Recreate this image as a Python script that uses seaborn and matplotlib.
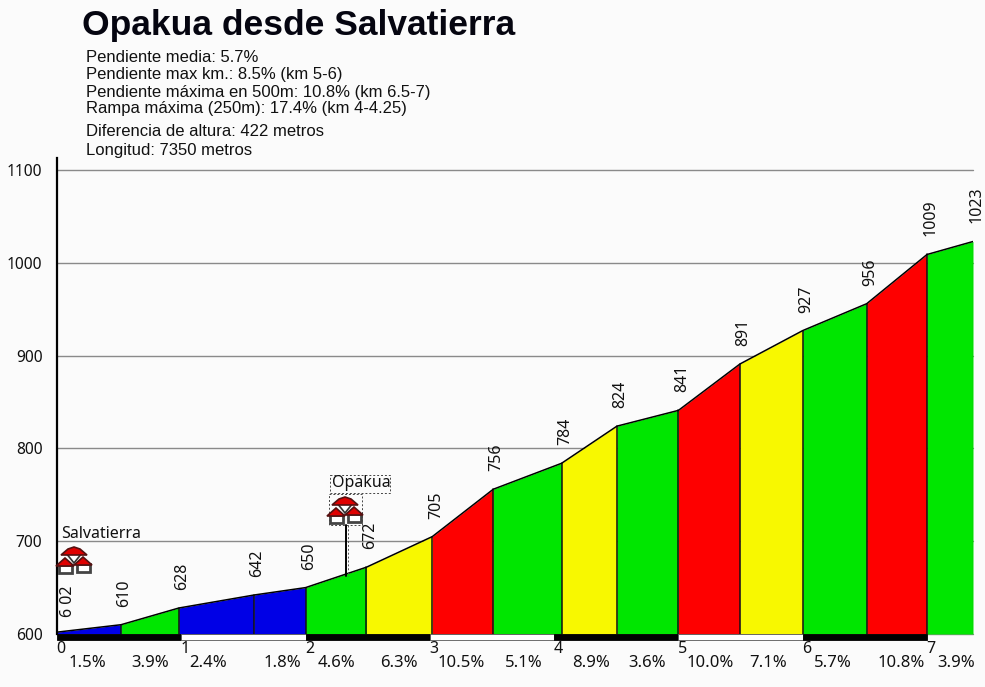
import matplotlib.pyplot as plt
import seaborn as sns
import pandas as pd
from matplotlib.patches import Rectangle, Polygon
from matplotlib.transforms import Affine2D

km = [0, 0.515, 0.98, 1.585, 2.0, 2.49, 3.02, 3.51, 4.06, 4.505, 5.0, 5.495, 6.0, 6.515, 7.0, 7.37]
altitude = [602, 610, 628, 642, 650, 672, 705, 756, 784, 824, 841, 891, 927, 956, 1009, 1023]
altitude_labels = ['6 02', '610', '628', '642', '650', '672', '705', '756', '784', '824', '841', '891', '927', '956', '1009', '1023']
slopes = ['1.5%', '3.9%', '2.4%', '1.8%', '4.6%', '6.3%', '10.5%', '5.1%', '8.9%', '3.6%', '10.0%', '7.1%', '5.7%', '10.8%', '3.9%']
slope_class = ['b', 'g', 'b', 'b', 'g', 'y', 'r', 'g', 'y', 'g', 'r', 'y', 'g', 'r', 'g']
km_ticks = [0, 1, 2, 3, 4, 5, 6, 7]
alt_ticks = [600, 700, 800, 900, 1000, 1100]
info_lines = ['Pendiente media: 5.7%', 'Pendiente max km.: 8.5% (km 5-6)',
              'Pendiente máxima en 500m: 10.8% (km 6.5-7)', 'Rampa máxima (250m): 17.4% (km 4-4.25)',
              'Diferencia de altura: 422 metros', 'Longitud: 7350 metros']

colors = {'b': '#0000e6', 'g': '#00e600', 'y': '#f8f800', 'r': '#fe0000'}
BG = '#fbfbfb'

sns.set_theme(style='white')
plt.rcParams['font.family'] = ['Noto Sans', 'DejaVu Sans']

W, H = 985, 687
fig = plt.figure(figsize=(W / 100, H / 100), dpi=100, facecolor=BG)
ax = fig.add_axes([57 / W, (H - 634) / H, (973 - 57) / W, (634 - 158) / H], facecolor=BG)

# pixel coordinates, origin top left like the reference
px = Affine2D().scale(1, -1).translate(0, H)

df = pd.DataFrame({'km': km, 'altitude': altitude})

for y in alt_ticks:
    ax.axhline(y, color='#8a8a8a', lw=1.0, zorder=1, clip_on=False)

for i in range(len(slopes)):
    ax.fill_between(km[i:i + 2], altitude[i:i + 2], 600, color=colors[slope_class[i]], lw=0, zorder=2)
    if i > 0:
        ax.plot([km[i], km[i]], [600, altitude[i]], color='#111111', lw=1.1, zorder=3)
ax.plot([km[-1], km[-1]], [600, altitude[-1]], color='#333333', lw=0.8, zorder=3)

sns.lineplot(data=df, x='km', y='altitude', color='black', lw=1.1, ax=ax, zorder=4)

ax.set_xlim(0, km[-1])
ax.set_ylim(600, 1113)
ax.set_xlabel('')
ax.set_ylabel('')
ax.set_xticks([])
ax.set_yticks(alt_ticks)
ax.set_yticklabels(alt_ticks, fontsize=11.2, color='#111111')
ax.tick_params(axis='y', length=3.5, width=1.0, color='#8a8a8a', pad=7)
for side in ['top', 'right', 'bottom']:
    ax.spines[side].set_visible(False)
ax.spines['left'].set_linewidth(1.6)
ax.spines['left'].set_color('black')

# kilometre bar under the profile
for k in km_ticks[:-1]:
    dark = k % 2 == 0
    ax.add_patch(Rectangle((k, 593), 1, 7, facecolor='black' if dark else 'white',
                           edgecolor='black' if dark else '#555555', lw=0.6, clip_on=False, zorder=5))

for k in km_ticks:
    ax.annotate(str(k), (k, 600), xytext=(3, -11), textcoords='offset points', ha='center', va='center',
                fontsize=11.5, color='#111111', annotation_clip=False)

# slope labels, nudged a bit from the middle of each stretch
nudges = [-2, 0, -8, 3, 0, 0, -2, -4, 2, -1, 1, -3, -2, 4, 6]
for i, s in enumerate(slopes):
    mid = (km[i] + km[i + 1]) / 2
    ax.annotate(s, (mid, 600), xytext=(nudges[i] * 0.72, -21), textcoords='offset points', ha='center', va='center',
                fontsize=12, color='#111111', annotation_clip=False)

for i, (k, a, lab) in enumerate(zip(km, altitude, altitude_labels)):
    dx, dy = (8, 11) if i == 0 else (2.5, 13)
    ax.annotate(lab, (k, a), xytext=(dx, dy), textcoords='offset points', rotation=90, ha='center', va='bottom',
                fontsize=11.5, color='#111111', annotation_clip=False, zorder=6)


def house(x, y):
    fig.add_artist(Rectangle((x - 6.5, y + 6), 13, 7.5, facecolor='white', edgecolor='#444444', lw=2, transform=px, zorder=7))
    fig.add_artist(Polygon([(x - 9, y + 7), (x, y - 1), (x + 9, y + 7)], facecolor='#e00000',
                           edgecolor='#551111', lw=1.2, transform=px, zorder=8))


def village(x, y):
    fig.add_artist(Polygon([(x - 8, y - 6), (x + 8, y - 6), (x, y + 4)], facecolor='white',
                           edgecolor='#333333', lw=1.2, transform=px, zorder=6))
    fig.add_artist(Polygon([(x - 13, y - 4), (x - 6, y - 10), (x, y - 12), (x + 6, y - 10), (x + 13, y - 4)],
                           facecolor='#e00000', edgecolor='#551111', lw=1.2, transform=px, zorder=6))
    house(x - 9, y)
    house(x + 9, y - 1)


village(74, 559)
village(345, 509)
fig.text(61, 534, 'Salvatierra', transform=px, fontsize=11.5, va='center', color='#111111')
fig.text(332, 483, 'Opakua', transform=px, fontsize=11.5, va='center', color='#111111')

# dashed selection boxes and the stem down to the profile
fig.add_artist(Rectangle((330, 475), 60, 18, fill=False, edgecolor='#444444', lw=0.7, ls=(0, (2, 2)), transform=px))
fig.add_artist(Rectangle((329, 494), 33, 31, fill=False, edgecolor='#444444', lw=0.7, ls=(0, (2, 2)), transform=px))
fig.add_artist(plt.Line2D([346, 346], [525, 576], color='black', lw=1.4, transform=px, zorder=6))
fig.add_artist(plt.Line2D([348, 348], [525, 576], color='#555555', lw=0.7, ls=(0, (2, 2)), transform=px, zorder=6))

fig.text(82, 26, 'Opakua desde Salvatierra', transform=px, fontsize=25.5, fontweight='bold', va='center',
         family='Liberation Sans', color='#050510')
for y, line in zip([58, 75, 92, 109, 132, 150], info_lines):
    fig.text(86, y, line, transform=px, fontsize=12, va='center', family='Liberation Sans', color='#111111')

plt.savefig('out.png', dpi=100, facecolor=BG)
plt.close()
